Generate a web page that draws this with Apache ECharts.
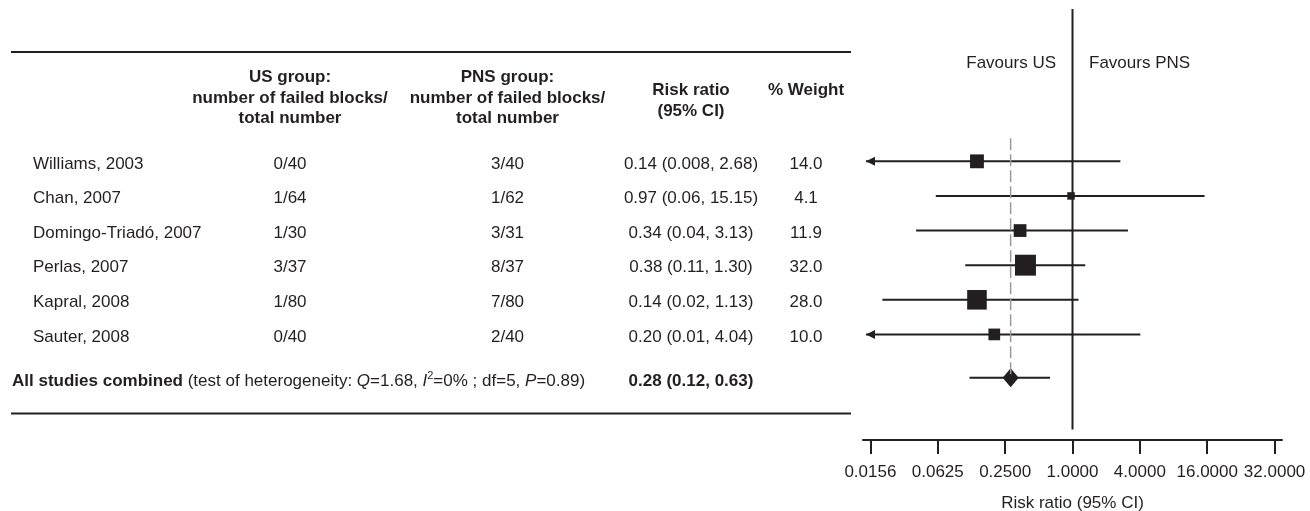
<!doctype html>
<html>
<head>
<meta charset="utf-8">
<style>
  html, body { margin: 0; padding: 0; background: #fff; }
  #main { width: 1310px; height: 511px; }
</style>
</head>
<body>
<div id="main"></div>
<script src="https://cdn.jsdelivr.net/npm/echarts@6/dist/echarts.min.js"></script>
<script>
// ---- data ----
var studies = ['Williams, 2003', 'Chan, 2007', 'Domingo-Triad\u00f3, 2007', 'Perlas, 2007', 'Kapral, 2008', 'Sauter, 2008'];
var usGroup = ['0/40', '1/64', '1/30', '3/37', '1/80', '0/40'];
var pnsGroup = ['3/40', '1/62', '3/31', '8/37', '7/80', '2/40'];
var riskRatio = [0.14, 0.97, 0.34, 0.38, 0.14, 0.20];
var ciLow = [0.008, 0.06, 0.04, 0.11, 0.02, 0.01];
var ciHigh = [2.68, 15.15, 3.13, 1.30, 1.13, 4.04];
var ciText = ['0.14 (0.008, 2.68)', '0.97 (0.06, 15.15)', '0.34 (0.04, 3.13)', '0.38 (0.11, 1.30)', '0.14 (0.02, 1.13)', '0.20 (0.01, 4.04)'];
var weights = ['14.0', '4.1', '11.9', '32.0', '28.0', '10.0'];

var pooled = [0.28, 0.12, 0.63];          // RR, low, high
var pooledText = '0.28 (0.12, 0.63)';
var heterogeneity = { Q: '1.68', I2: '0%', df: '5', P: '0.89' };

// tick labels as printed (log4 positions -3..3)
var tickPos = [-3, -2, -1, 0, 1, 2, 3];
var tickLabels = ['0.0156', '0.0625', '0.2500', '1.0000', '4.0000', '16.0000', '32.0000'];

// ---- layout ----
var INK = '#231f20';
var FAMILY = '"Liberation Sans", Arial, Helvetica, sans-serif';
var X_MIN = -3.11, X_MAX = 3.11;
var Y_MIN = -4.4, Y_MAX = 8.05;
var POOLED_ROW = 6.25;
var COL = { name: 33, us: 290, pns: 507.5, rr: 691, w: 806 };

function log4(v) { return Math.log(v) / Math.log(4); }

var chart = echarts.init(document.getElementById('main'));

var studyData = studies.map(function (s, i) {
    return [log4(riskRatio[i]), i, log4(ciLow[i]), log4(ciHigh[i]), parseFloat(weights[i])];
});
var tableData = studies.map(function (s, i) { return [0, i]; });

function renderStudy(params, api) {
    var row = api.value(1);
    var c = api.coord([api.value(0), row]);
    var clipped = api.value(2) < X_MIN;
    var pLo = api.coord([Math.max(api.value(2), X_MIN), row]);
    var pHi = api.coord([api.value(3), row]);
    var x0 = clipped ? pLo[0] + 3 : pLo[0];
    var size = 3.7 * Math.sqrt(api.value(4));
    var kids = [{
        type: 'line',
        shape: { x1: x0, y1: c[1], x2: pHi[0], y2: c[1] },
        style: { stroke: INK, lineWidth: 2 }
    }];
    if (clipped) {
        kids.push({
            type: 'polygon',
            shape: { points: [[x0, c[1]], [x0 + 9, c[1] - 4.5], [x0 + 9, c[1] + 4.5]] },
            style: { fill: INK }
        });
    }
    kids.push({
        type: 'rect',
        shape: { x: c[0] - size / 2, y: c[1] - size / 2, width: size, height: size },
        style: { fill: INK }
    });
    return { type: 'group', children: kids };
}

function renderPooled(params, api) {
    var c = api.coord([api.value(0), POOLED_ROW]);
    var pLo = api.coord([api.value(1), POOLED_ROW]);
    var pHi = api.coord([api.value(2), POOLED_ROW]);
    return {
        type: 'group',
        children: [{
            type: 'line',
            shape: { x1: pLo[0], y1: c[1], x2: pHi[0], y2: c[1] },
            style: { stroke: INK, lineWidth: 2 }
        }, {
            type: 'polygon',
            shape: { points: [[c[0] - 8, c[1]], [c[0], c[1] - 9.5], [c[0] + 8, c[1]], [c[0], c[1] + 9.5]] },
            style: { fill: INK }
        }]
    };
}

function txt(x, y, text, align, bold) {
    return {
        type: 'text', x: x, y: y,
        style: {
            text: text, fill: INK, align: align, verticalAlign: 'middle',
            fontSize: 17, fontFamily: FAMILY, fontWeight: bold ? 'bold' : 'normal'
        }
    };
}

function renderRow(params, api) {
    var i = params.dataIndex;
    var y = api.coord([0, i])[1];
    var xs = function (v) { return api.coord([v, i])[0]; };
    return {
        type: 'group',
        children: [
            txt(xs(COL.name), y, studies[i], 'left'),
            txt(xs(COL.us), y, usGroup[i], 'center'),
            txt(xs(COL.pns), y, pnsGroup[i], 'center'),
            txt(xs(COL.rr), y, ciText[i], 'center'),
            txt(xs(COL.w), y, weights[i], 'center')
        ]
    };
}

function renderPooledRow(params, api) {
    var y = api.coord([0, POOLED_ROW])[1] + 1.5;
    var left = api.coord([12, POOLED_ROW])[0];
    var h = heterogeneity;
    var base = { fontSize: 17, fontFamily: FAMILY, fill: INK, lineHeight: 22 };
    return {
        type: 'group',
        children: [{
            type: 'text', x: left, y: y,
            style: {
                text: '{b|All studies combined}{n| (test of heterogeneity: }{i|Q}{n|=' + h.Q + ', }{i|I}{s|2}{n|=' + h.I2 +
                    ' ; df=' + h.df + ', }{i|P}{n|=' + h.P + ')}',
                align: 'left', verticalAlign: 'middle', fontSize: 17, fontFamily: FAMILY, fill: INK,
                rich: {
                    b: Object.assign({ fontWeight: 'bold' }, base),
                    n: Object.assign({}, base),
                    i: Object.assign({ fontStyle: 'italic' }, base),
                    s: { fontSize: 11, fontFamily: FAMILY, fill: INK, lineHeight: 12, verticalAlign: 'top' }
                }
            }
        },
        txt(api.coord([COL.rr, POOLED_ROW])[0], y, pooledText, 'center', true)]
    };
}

function header(x, y, text) {
    return {
        type: 'text', x: x, y: y,
        style: {
            text: text, fill: INK, align: 'center', verticalAlign: 'middle',
            fontSize: 17, fontWeight: 'bold', fontFamily: FAMILY, lineHeight: 20.5
        }
    };
}

var rr0 = log4(pooled[0]);

chart.setOption({
    animation: false,
    backgroundColor: '#fff',
    grid: [
        { left: 0, top: 11.5, width: 860, height: 431, outerBoundsMode: 'none', containLabel: false },
        { left: 863, right: 28, top: 9, height: 431, outerBoundsMode: 'none', containLabel: false }
    ],
    xAxis: [
        { gridIndex: 0, type: 'value', min: 0, max: 860, show: false },
        {
            gridIndex: 1, type: 'value', min: X_MIN, max: X_MAX,
            splitLine: { show: false },
            axisLine: { show: true, onZero: false, lineStyle: { color: INK, width: 2 } },
            axisTick: { show: true, length: 14, customValues: tickPos, lineStyle: { color: INK, width: 2 } },
            axisLabel: {
                customValues: tickPos, hideOverlap: false, margin: 24,
                color: INK, fontSize: 17, fontFamily: FAMILY,
                formatter: function (v) { return tickLabels[tickPos.indexOf(Math.round(v))]; }
            },
            name: 'Risk ratio (95% CI)', nameLocation: 'middle', nameGap: 55,
            nameTextStyle: { color: INK, fontSize: 17, fontFamily: FAMILY }
        }
    ],
    yAxis: [
        { gridIndex: 0, type: 'value', inverse: true, min: Y_MIN, max: Y_MAX, show: false },
        { gridIndex: 1, type: 'value', inverse: true, min: Y_MIN, max: Y_MAX, show: false }
    ],
    graphic: [
        { type: 'line', shape: { x1: 11, y1: 52, x2: 851, y2: 52 }, style: { stroke: INK, lineWidth: 2 } },
        { type: 'line', shape: { x1: 11, y1: 413.5, x2: 851, y2: 413.5 }, style: { stroke: INK, lineWidth: 2 } },
        header(290, 98, 'US group:\nnumber of failed blocks/\ntotal number'),
        header(507.5, 98, 'PNS group:\nnumber of failed blocks/\ntotal number'),
        header(691, 101, 'Risk ratio\n(95% CI)'),
        header(806, 90, '% Weight'),
        {
            type: 'text', x: 1056, y: 63,
            style: { text: 'Favours US', fill: INK, align: 'right', verticalAlign: 'middle', fontSize: 17, fontFamily: FAMILY }
        },
        {
            type: 'text', x: 1089, y: 63,
            style: { text: 'Favours PNS', fill: INK, align: 'left', verticalAlign: 'middle', fontSize: 17, fontFamily: FAMILY }
        }
    ],
    series: [
        {
            type: 'custom', xAxisIndex: 0, yAxisIndex: 0,
            data: tableData, renderItem: renderRow, silent: true
        },
        {
            type: 'custom', xAxisIndex: 0, yAxisIndex: 0,
            data: [[0, POOLED_ROW]], renderItem: renderPooledRow, silent: true
        },
        {
            type: 'line', xAxisIndex: 1, yAxisIndex: 1, symbol: 'none', silent: true,
            data: [[rr0, -0.67], [rr0, POOLED_ROW]],
            lineStyle: { color: '#999', width: 1.5, type: [12, 4] }
        },
        {
            type: 'line', xAxisIndex: 1, yAxisIndex: 1, symbol: 'none', silent: true,
            data: [[0, Y_MIN], [0, 7.75]],
            lineStyle: { color: INK, width: 2 }
        },
        {
            type: 'custom', xAxisIndex: 1, yAxisIndex: 1,
            data: studyData, renderItem: renderStudy, silent: true
        },
        {
            type: 'custom', xAxisIndex: 1, yAxisIndex: 1,
            data: [[rr0, log4(pooled[1]), log4(pooled[2])]], renderItem: renderPooled, silent: true
        }
    ]
});

window.addEventListener('resize', function () {
    chart.resize();
});
</script>
</body>
</html>
